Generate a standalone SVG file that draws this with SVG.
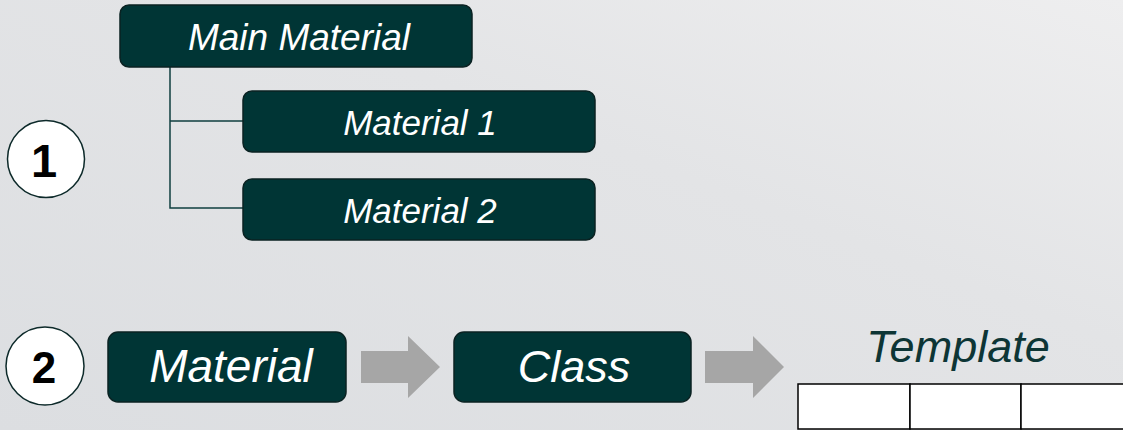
<svg xmlns="http://www.w3.org/2000/svg" width="1123" height="430" viewBox="0 0 1123 430">
<defs>
<linearGradient id="bg" x1="0" y1="1" x2="1" y2="0">
<stop offset="0" stop-color="#dcdee1"/>
<stop offset="0.6" stop-color="#e3e4e6"/>
<stop offset="1" stop-color="#eeeeef"/>
</linearGradient>
<style>
.box{fill:#003535;stroke:#0a2222;stroke-width:1.5}
.t{font-family:"Liberation Sans",Arial,sans-serif;font-style:italic;fill:#ffffff;text-anchor:middle}
.num{font-family:"Liberation Sans",Arial,sans-serif;font-weight:bold;fill:#000;text-anchor:middle}
.circ{fill:#ffffff;stroke:#0d2a2a;stroke-width:1.5}
.line{fill:none;stroke:#0f3f3f;stroke-width:1.5}
.arrow{fill:#a6a6a6}
.cell{fill:#ffffff;stroke:#000;stroke-width:1.5}
</style>
</defs>
<rect width="1123" height="430" fill="url(#bg)"/>
<g id="connectors">
<path class="line" d="M170 67 V208 H243 M170 121 H243"/>
<polygon class="arrow" points="361,351 408,351 408,336 440,367 408,398 408,383 361,383"/>
<polygon class="arrow" points="705,351 753,351 753,336 784,367 753,398 753,383 705,383"/>
</g>
<g id="c1"><circle class="circ" cx="46" cy="159" r="38.5"/><text class="num" x="44" y="177" font-size="47">1</text></g>
<g id="c2"><circle class="circ" cx="45" cy="366" r="39"/><text class="num" x="44" y="383" font-size="44">2</text></g>
<g id="main"><rect class="box" x="120" y="5" width="352" height="62" rx="9"/><text class="t" x="299" y="50" font-size="37">Main Material</text></g>
<g id="m1"><rect class="box" x="243" y="91" width="352" height="61" rx="9"/><text class="t" x="420" y="135" font-size="35">Material 1</text></g>
<g id="m2"><rect class="box" x="243" y="179" width="352" height="61" rx="9"/><text class="t" x="420" y="223" font-size="35">Material 2</text></g>
<g id="material"><rect class="box" x="108" y="332" width="238" height="70" rx="10"/><text class="t" x="231" y="382" font-size="46">Material</text></g>
<g id="class"><rect class="box" x="454" y="332" width="237" height="70" rx="10"/><text class="t" x="574" y="382" font-size="45">Class</text></g>
<g id="template">
<text class="t" x="958" y="362" font-size="45" style="fill:#0d3535">Template</text>
<rect class="cell" x="798" y="384" width="112" height="45"/>
<rect class="cell" x="910" y="384" width="111" height="45"/>
<rect class="cell" x="1021" y="384" width="110" height="45"/>
</g>
</svg>
